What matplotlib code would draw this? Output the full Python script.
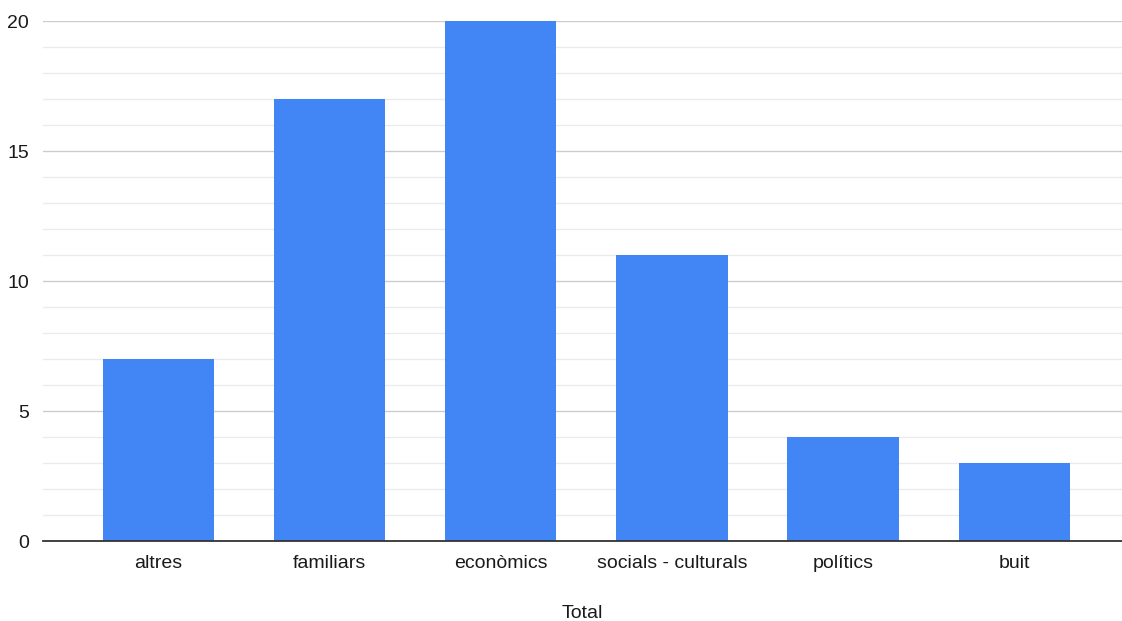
import matplotlib.pyplot as plt
import numpy as np

plt.rcParams["font.family"] = ["Liberation Sans", "DejaVu Sans"]

categories = ["altres", "familiars", "econòmics", "socials - culturals", "polítics", "buit"]
totals = [7, 17, 20, 11, 4, 3]
BAR_COLOR = "#4285F4"

fig = plt.figure(figsize=(11.22, 6.21), dpi=100)
ax = fig.add_axes([43 / 1122, 1 - 541 / 621, 1 - 43 / 1122, (541 - 21) / 621])

x = np.arange(len(categories))
ax.bar(x, totals, width=0.65, color=BAR_COLOR, zorder=3)

ax.set_xlim(-0.675, len(categories) - 1 + 0.63)
ax.set_ylim(0, 20)
ax.set_yticks([0, 5, 10, 15, 20])
ax.set_yticks(np.arange(0, 21, 1), minor=True)
ax.grid(axis="y", which="major", color="#cccccc", linewidth=1.0, zorder=0)
ax.grid(axis="y", which="minor", color="#ebebeb", linewidth=1.0, zorder=0)
ax.tick_params(axis="y", which="both", length=0, labelsize=14, pad=10, labelcolor="#1a1a1a")
ax.tick_params(axis="x", length=0, labelsize=14, pad=10, labelcolor="#1a1a1a")
ax.set_xticks(x)
ax.set_xticklabels(categories)

for s in ["top", "right", "left"]:
    ax.spines[s].set_visible(False)
ax.spines["bottom"].set_color("#333333")
ax.spines["bottom"].set_linewidth(1.3)
ax.spines["bottom"].set_zorder(4)

ax.set_xlabel("Total", fontsize=14, labelpad=24, color="#1a1a1a")

fig.savefig("out.png", dpi=100)
